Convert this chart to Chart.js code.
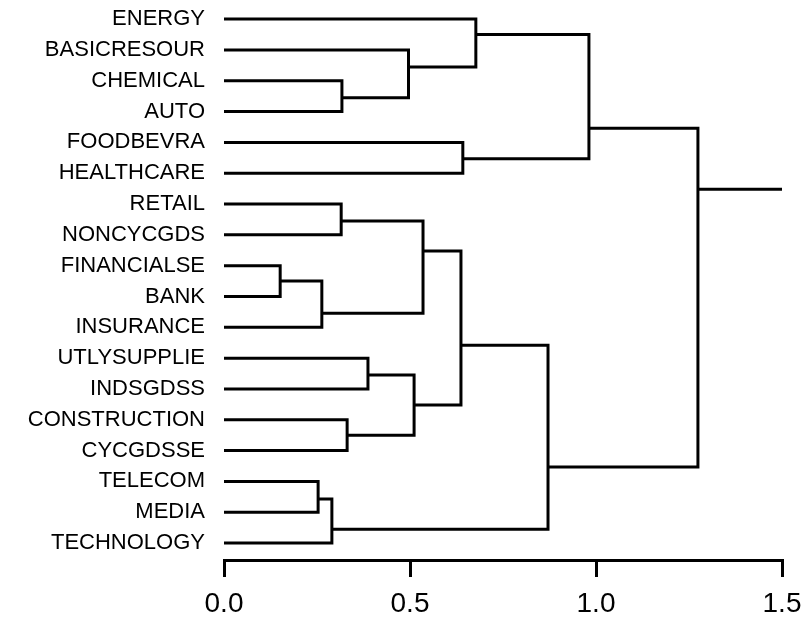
<!DOCTYPE html>
<html>
<head>
<meta charset="utf-8">
<script src="https://cdn.jsdelivr.net/npm/chart.js@4"></script>
<style>
  html, body { margin: 0; padding: 0; background: #fff; }
  #wrap { width: 808px; height: 621px; position: relative; }
</style>
</head>
<body>
<div id="wrap"><canvas id="c"></canvas></div>
<script>
// Leaves, top to bottom
const leaves = ["ENERGY","BASICRESOUR","CHEMICAL","AUTO","FOODBEVRA","HEALTHCARE",
  "RETAIL","NONCYCGDS","FINANCIALSE","BANK","INSURANCE","UTLYSUPPLIE","INDSGDSS",
  "CONSTRUCTION","CYCGDSSE","TELECOM","MEDIA","TECHNOLOGY"];
// Merges: node id = 18 + index. Children refer to leaf index (<18) or node id.
const mergeA      = [2, 1, 0, 4, 20, 6, 8, 24, 23, 11, 13, 27, 26, 15, 31, 30, 22];
const mergeB      = [3, 18, 19, 5, 21, 7, 9, 10, 25, 12, 14, 28, 29, 16, 17, 32, 33];
const mergeHeight = [0.317, 0.496, 0.677, 0.642, 0.981, 0.315, 0.151, 0.263, 0.535,
                     0.387, 0.331, 0.511, 0.637, 0.253, 0.290, 0.871, 1.274];
const mergeRow    = [2.55, 1.55, 0.50, 4.53, 3.54, 6.55, 8.5, 9.54, 7.52,
                     11.55, 13.5, 12.52, 10.58, 15.57, 16.55, 14.53, 5.52];
const rootTailEnd = 1.5;
const xTicks = [0, 0.5, 1.0, 1.5];

const nLeaf = leaves.length;
function heightOf(id) { return id < nLeaf ? 0 : mergeHeight[id - nLeaf]; }
function rowOf(id) { return id < nLeaf ? id : mergeRow[id - nLeaf]; }

const datasets = [];
for (let i = 0; i < mergeA.length; i++) {
  const a = mergeA[i], b = mergeB[i], h = mergeHeight[i];
  datasets.push({
    data: [
      {x: heightOf(a), y: rowOf(a)},
      {x: h, y: rowOf(a)},
      {x: h, y: rowOf(b)},
      {x: heightOf(b), y: rowOf(b)}
    ],
    borderColor: '#000', borderWidth: 3, pointRadius: 0, showLine: true,
    tension: 0, fill: false
  });
}
const rootIdx = mergeA.length - 1;
datasets.push({
  data: [{x: mergeHeight[rootIdx], y: mergeRow[rootIdx]}, {x: rootTailEnd, y: mergeRow[rootIdx]}],
  borderColor: '#000', borderWidth: 3, pointRadius: 0, showLine: true, tension: 0, fill: false
});

new Chart(document.getElementById('c'), {
  type: 'scatter',
  data: { datasets },
  options: {
    responsive: true, maintainAspectRatio: false, animation: false,
    layout: { padding: { top: 3.7, right: 26, bottom: 4, left: 0 } },
    plugins: { legend: { display: false }, tooltip: { enabled: false } },
    scales: {
      x: {
        type: 'linear', min: 0, max: 1.5,
        afterBuildTicks: s => { s.ticks = xTicks.map(v => ({value: v})); },
        afterFit: s => { s.height = 57; s.paddingLeft = 0; s.paddingRight = 0; },
        ticks: { callback: v => Number(v).toFixed(1), color: '#000', padding: 13,
                 font: { family: 'Liberation Sans, Arial, sans-serif', size: 28, lineHeight: 1 }, maxRotation: 0 },
        grid: { drawOnChartArea: false, drawTicks: true, tickLength: 17, lineWidth: 3, color: '#000' },
        border: { display: true, color: '#000', width: 3 }
      },
      y: {
        type: 'linear', reverse: true, min: -0.5, max: 17.55,
        afterBuildTicks: s => { s.ticks = leaves.map((_, i) => ({value: i})); },
        afterFit: s => { s.width = 224; s.paddingTop = 0; s.paddingBottom = 0; },
        ticks: { callback: v => leaves[v], color: '#000', padding: 19, autoSkip: false,
                 font: { family: 'Liberation Sans, Arial, sans-serif', size: 22 } },
        grid: { display: false, drawTicks: false },
        border: { display: false }
      }
    }
  }
});
</script>
</body>
</html>
